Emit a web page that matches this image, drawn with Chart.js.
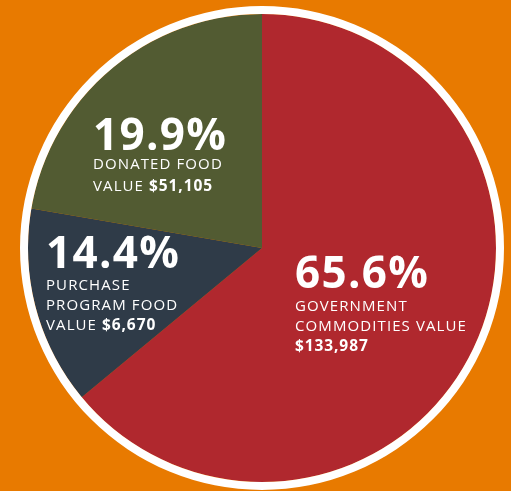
<!DOCTYPE html>
<html>
<head>
<meta charset="utf-8">
<script src="https://cdn.jsdelivr.net/npm/chart.js@4"></script>
<style>
  html, body { margin: 0; padding: 0; background: #E87A00; }
  #wrap { width: 511px; height: 491px; position: relative; }
</style>
</head>
<body>
<div id="wrap"><canvas id="c" width="511" height="491"></canvas></div>
<script>
// Categories (clockwise from top)
const categories = ["Government Commodities Value", "Purchase Program Food Value", "Donated Food Value"];
// Slice shares as drawn in the picture (percent of circle)
const sliceShares = [64.0, 13.7, 22.3];
// Label texts printed on the slices
const percentLabels = ["65.6%", "14.4%", "19.9%"];
const nameLines = [["GOVERNMENT", "COMMODITIES VALUE"], ["PURCHASE", "PROGRAM FOOD"], ["DONATED FOOD"]];
const valuePrefix = ["", "VALUE ", "VALUE "];
const dollarValues = ["$133,987", "$6,670", "$51,105"];
const sliceColors = ["#B0282E", "#2F3B48", "#525B32"];

const FONT = "'Open Sans', 'DejaVu Sans', sans-serif";

// where each label block sits (left x, big-number baseline, first small-line baseline, line gap)
const labelPos = [
  { x: 295, big: 288, first: 311, gap: 20 },
  { x: 46,  big: 268, first: 290, gap: 19.8 },
  { x: 93,  big: 150, first: 169, gap: 22 }
];

const labelPlugin = {
  id: 'sliceLabels',
  afterDatasetsDraw(chart) {
    const ctx = chart.ctx;
    ctx.save();
    ctx.fillStyle = '#FFFFFF';
    ctx.textBaseline = 'alphabetic';
    ctx.textAlign = 'left';
    for (let i = 0; i < categories.length; i++) {
      const p = labelPos[i];
      ctx.letterSpacing = '1.3px';
      ctx.font = "700 44px " + FONT;
      ctx.fillText(percentLabels[i], p.x, p.big);
      let y = p.first;
      const lines = nameLines[i];
      ctx.letterSpacing = '1.1px';
      for (let j = 0; j < lines.length; j++) {
        ctx.font = "400 15px " + FONT;
        ctx.fillText(lines[j], p.x, y);
        y += p.gap;
      }
      ctx.font = "400 15px " + FONT;
      const pre = valuePrefix[i];
      ctx.fillText(pre, p.x, y);
      const w = ctx.measureText(pre).width;
      ctx.letterSpacing = '0.9px';
      ctx.font = "700 15.5px " + FONT;
      ctx.fillText(dollarValues[i], p.x + w, y);
    }
    ctx.restore();
  }
};

new Chart(document.getElementById('c'), {
  type: 'pie',
  data: {
    labels: categories,
    datasets: [
      {
        data: [1],
        backgroundColor: ['#FFFFFF'],
        borderWidth: 0,
        weight: 8,
        hoverOffset: 0
      },
      {
        data: sliceShares,
        backgroundColor: sliceColors,
        borderWidth: 0,
        weight: 234,
        hoverOffset: 0
      }
    ]
  },
  options: {
    responsive: false,
    animation: false,
    events: [],
    layout: { padding: { top: 6, bottom: 1, left: 20, right: 7 } },
    plugins: {
      legend: { display: false },
      tooltip: { enabled: false }
    }
  },
  plugins: [labelPlugin]
});
</script>
</body>
</html>
